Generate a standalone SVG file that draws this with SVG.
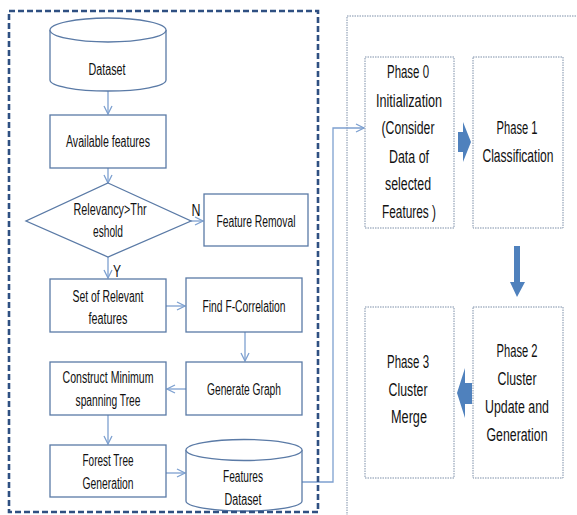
<svg xmlns="http://www.w3.org/2000/svg" width="577" height="515" viewBox="0 0 577 515">
<defs>
<marker id="open" viewBox="0 0 10 10" refX="9" refY="5" markerWidth="10" markerHeight="10" markerUnits="userSpaceOnUse" orient="auto">
<polyline points="1,1 9,5 1,9" fill="none" stroke="#7da0d0" stroke-width="1.3"/>
</marker>
<style>
.box{fill:#fff;stroke:#5a7aa6;stroke-width:1.3}
.ph{fill:#fff;stroke:#7d8fa8;stroke-width:1;stroke-dasharray:1.5 1}
.conn{fill:none;stroke:#7da0d0;stroke-width:1.3}
.blk{fill:#4f81bd}
text{font-family:"Liberation Sans",Arial,sans-serif;fill:#111;text-anchor:middle}
.l{font-size:16px}
.r{font-size:17.5px}
</style>
</defs>
<rect width="577" height="515" fill="#fff"/>
<rect x="347" y="16" width="300" height="600" fill="none" stroke="#7d8fa8" stroke-width="1" stroke-dasharray="1.5 1"/>

<g id="connectors">
<line class="conn" x1="108" y1="91" x2="108" y2="114" marker-end="url(#open)"/>
<line class="conn" x1="108" y1="168" x2="108" y2="183" marker-end="url(#open)"/>
<line class="conn" x1="191" y1="221" x2="203" y2="221" marker-end="url(#open)"/>
<line class="conn" x1="108" y1="257" x2="108" y2="278" marker-end="url(#open)"/>
<line class="conn" x1="166" y1="306" x2="185" y2="306" marker-end="url(#open)"/>
<line class="conn" x1="245" y1="332" x2="245" y2="361" marker-end="url(#open)"/>
<line class="conn" x1="186" y1="389" x2="167" y2="389" marker-end="url(#open)"/>
<line class="conn" x1="108" y1="415" x2="108" y2="444" marker-end="url(#open)"/>
<line class="conn" x1="166" y1="473" x2="185" y2="473" marker-end="url(#open)"/>
<polyline class="conn" points="302,482 333,482 333,128 364,128" marker-end="url(#open)"/>
<path class="blk" d="M458,132 L463,132 L463,122 L471,142 L463,162 L463,152 L458,152 Z"/>
<path class="blk" d="M514,246 L520,246 L520,282 L525,282 L517,297 L510,282 L514,282 Z"/>
<path class="blk" d="M472,383 L465,383 L465,368 L457,393 L465,418 L465,404 L472,404 Z"/>
</g>

<g id="dataset">
<path class="box" d="M50,30 L50,80 A58,11 0 0 0 166,80 L166,30"/>
<ellipse class="box" cx="108" cy="30" rx="58" ry="12"/>
<text class="l" x="107" y="75" textLength="37" lengthAdjust="spacingAndGlyphs">Dataset</text>
</g>
<g id="available">
<rect class="box" x="50" y="115" width="116" height="53"/>
<text class="l" x="108" y="147" textLength="84" lengthAdjust="spacingAndGlyphs">Available features</text>
</g>
<g id="decision">
<polygon class="box" points="108,183 191,221 108,257 26,221"/>
<text class="l" x="110" y="215" textLength="73" lengthAdjust="spacingAndGlyphs">Relevancy&gt;Thr</text>
<text class="l" x="108" y="237" textLength="30" lengthAdjust="spacingAndGlyphs">eshold</text>
<text class="l" x="196" y="216" textLength="9" lengthAdjust="spacingAndGlyphs">N</text>
<text class="l" x="117" y="277" textLength="8" lengthAdjust="spacingAndGlyphs">Y</text>
</g>
<g id="removal">
<rect class="box" x="204" y="194" width="104" height="52"/>
<text class="l" x="256" y="227" textLength="79" lengthAdjust="spacingAndGlyphs">Feature Removal</text>
</g>
<g id="relevant">
<rect class="box" x="50" y="279" width="116" height="53"/>
<text class="l" x="108" y="302" textLength="71" lengthAdjust="spacingAndGlyphs">Set of Relevant</text>
<text class="l" x="108" y="324" textLength="39" lengthAdjust="spacingAndGlyphs">features</text>
</g>
<g id="fcorr">
<rect class="box" x="186" y="278" width="116" height="54"/>
<text class="l" x="244" y="312" textLength="83" lengthAdjust="spacingAndGlyphs">Find F-Correlation</text>
</g>
<g id="graph">
<rect class="box" x="186" y="362" width="116" height="53"/>
<text class="l" x="244" y="395" textLength="74" lengthAdjust="spacingAndGlyphs">Generate Graph</text>
</g>
<g id="mst">
<rect class="box" x="50" y="362" width="116" height="53"/>
<text class="l" x="108" y="383" textLength="91" lengthAdjust="spacingAndGlyphs">Construct Minimum</text>
<text class="l" x="108" y="406" textLength="65" lengthAdjust="spacingAndGlyphs">spanning Tree</text>
</g>
<g id="forest">
<rect class="box" x="50" y="445" width="116" height="52"/>
<text class="l" x="108" y="466" textLength="51" lengthAdjust="spacingAndGlyphs">Forest Tree</text>
<text class="l" x="108" y="489" textLength="51" lengthAdjust="spacingAndGlyphs">Generation</text>
</g>
<g id="featdataset">
<path class="box" d="M186,450 L186,501 A58,10 0 0 0 302,501 L302,450"/>
<ellipse class="box" cx="244" cy="450" rx="58" ry="10.5"/>
<text class="l" x="243" y="482" textLength="40" lengthAdjust="spacingAndGlyphs">Features</text>
<text class="l" x="243" y="505" textLength="37" lengthAdjust="spacingAndGlyphs">Dataset</text>
</g>

<rect x="9" y="11" width="309" height="501" fill="none" stroke="#2f5082" stroke-width="2.6" stroke-dasharray="6 3"/>

<g id="phase0">
<rect class="ph" x="365" y="57" width="89" height="171"/>
<text class="r" x="408" y="78" textLength="42" lengthAdjust="spacingAndGlyphs">Phase 0</text>
<text class="r" x="409" y="107" textLength="66" lengthAdjust="spacingAndGlyphs">Initialization</text>
<text class="r" x="408" y="134" textLength="53" lengthAdjust="spacingAndGlyphs">(Consider</text>
<text class="r" x="409" y="163" textLength="40" lengthAdjust="spacingAndGlyphs">Data of</text>
<text class="r" x="408" y="190" textLength="46" lengthAdjust="spacingAndGlyphs">selected</text>
<text class="r" x="409" y="218" textLength="54" lengthAdjust="spacingAndGlyphs">Features )</text>
</g>
<g id="phase1">
<rect class="ph" x="473" y="57" width="90" height="171"/>
<text class="r" x="517" y="134" textLength="41" lengthAdjust="spacingAndGlyphs">Phase 1</text>
<text class="r" x="0" y="0" transform="translate(518,162) scale(0.69,1)">Classification</text>
</g>
<g id="phase2">
<rect class="ph" x="473" y="307" width="90" height="171"/>
<text class="r" x="517" y="357" textLength="41" lengthAdjust="spacingAndGlyphs">Phase 2</text>
<text class="r" x="517" y="385" textLength="39" lengthAdjust="spacingAndGlyphs">Cluster</text>
<text class="r" x="517" y="413" textLength="64" lengthAdjust="spacingAndGlyphs">Update and</text>
<text class="r" x="517" y="441" textLength="61" lengthAdjust="spacingAndGlyphs">Generation</text>
</g>
<g id="phase3">
<rect class="ph" x="365" y="307" width="89" height="171"/>
<text class="r" x="408" y="368" textLength="42" lengthAdjust="spacingAndGlyphs">Phase 3</text>
<text class="r" x="408" y="396" textLength="39" lengthAdjust="spacingAndGlyphs">Cluster</text>
<text class="r" x="409" y="423" textLength="36" lengthAdjust="spacingAndGlyphs">Merge</text>
</g>
</svg>
